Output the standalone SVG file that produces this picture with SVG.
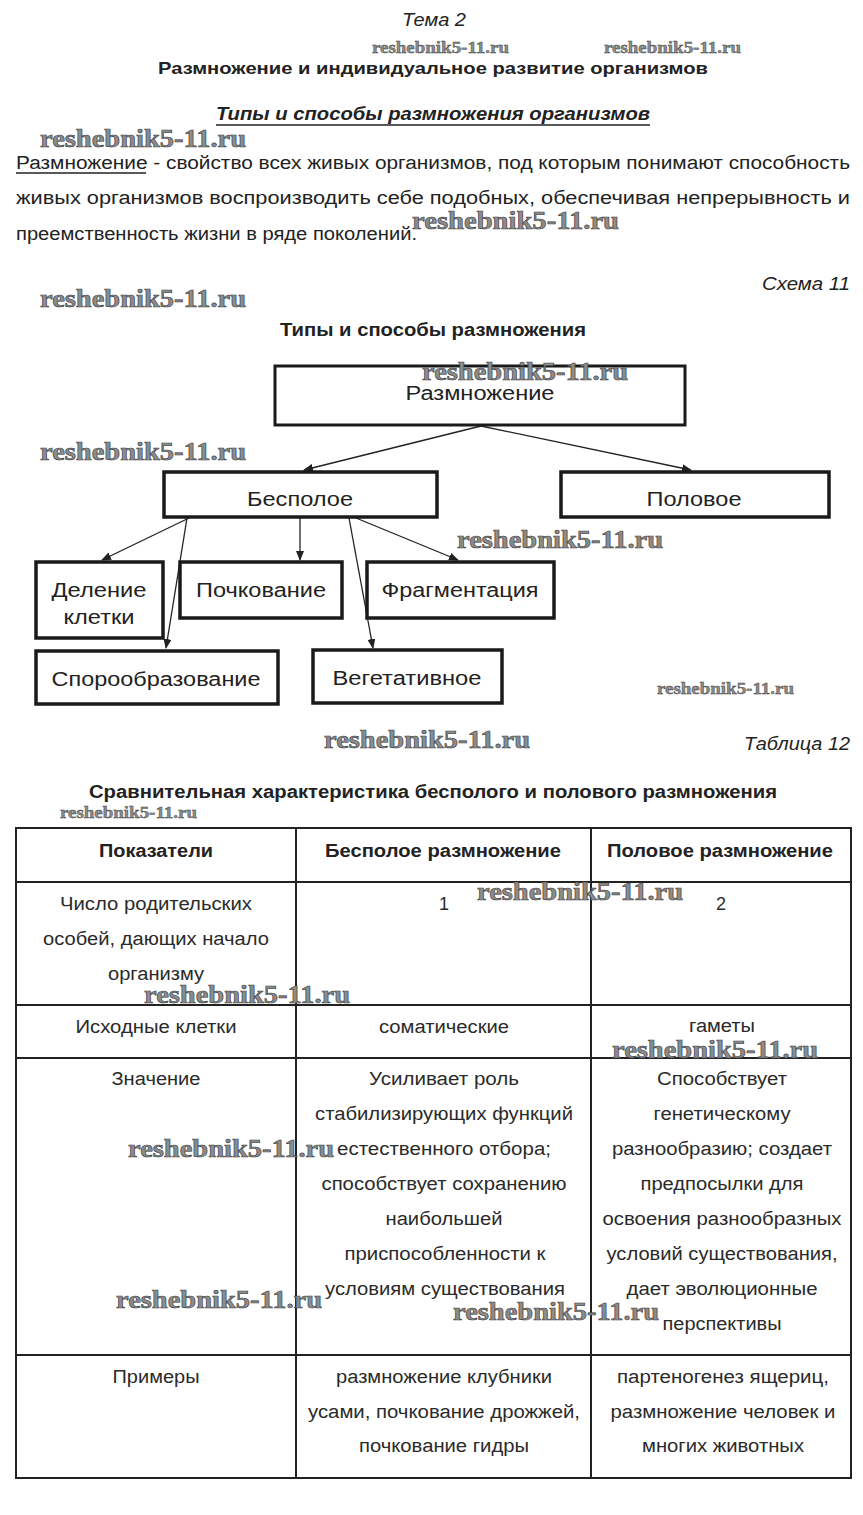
<svg xmlns="http://www.w3.org/2000/svg" width="863" height="1515" viewBox="0 0 863 1515">
<style>
text{font-family:"Liberation Sans",Arial,sans-serif;fill:#222}
.c{text-anchor:middle}
.r{text-anchor:end}
.b{font-weight:bold}
.i{font-style:italic}
.t{font-size:18px}
.tb{font-size:18px;fill:#2a2a2a}
.bx{font-size:20px}
.wm{font-family:"Liberation Serif","DejaVu Serif",serif;font-weight:bold;fill:#8c8c8c;stroke:#3c3c3c;stroke-width:0.6}
.wl{font-size:25px}
.ws{font-size:16px;stroke-width:0.4}
.node{fill:#fff;stroke:#1a1a1a;stroke-width:3.5}
.grid{stroke:#222;stroke-width:2;fill:none}
.edge{stroke:#222;stroke-width:1.3;fill:none}
</style>
<defs>
<marker id="ah" markerWidth="10" markerHeight="8" refX="9" refY="4" orient="auto" markerUnits="userSpaceOnUse">
<path d="M0,0 L10,4 L0,8 Z" fill="#222"/>
</marker>
</defs>
<rect width="863" height="1515" fill="#fff"/>

<!-- header -->
<text class="c i t" x="434" y="26" textLength="64" lengthAdjust="spacingAndGlyphs">Тема 2</text>
<text class="c b" style="font-size:17px" x="433" y="74" textLength="550" lengthAdjust="spacingAndGlyphs">Размножение и индивидуальное развитие организмов</text>
<text class="c b i" style="font-size:18px" x="433" y="120" textLength="434" lengthAdjust="spacingAndGlyphs">Типы и способы размножения организмов</text>
<line x1="216" y1="125" x2="650" y2="125" stroke="#222" stroke-width="1.5"/>

<text class="t" x="16" y="169" textLength="834" lengthAdjust="spacingAndGlyphs">Размножение - свойство всех живых организмов, под которым понимают способность</text>
<line x1="16" y1="173" x2="146" y2="173" stroke="#222" stroke-width="1.3"/>
<text class="t" x="16" y="204" textLength="834" lengthAdjust="spacingAndGlyphs">живых организмов воспроизводить себе подобных, обеспечивая непрерывность и</text>
<text class="t" x="16" y="240" textLength="401" lengthAdjust="spacingAndGlyphs">преемственность жизни в ряде поколений.</text>

<text class="r i t" x="850" y="290" textLength="88" lengthAdjust="spacingAndGlyphs">Схема 11</text>
<text class="c b" style="font-size:18px" x="433" y="336" textLength="306" lengthAdjust="spacingAndGlyphs">Типы и способы размножения</text>

<!-- connectors -->
<g id="connectors">
<line class="edge" x1="481" y1="426" x2="304" y2="470" marker-end="url(#ah)"/>
<line class="edge" x1="481" y1="426" x2="691" y2="470" marker-end="url(#ah)"/>
<line class="edge" x1="189" y1="518" x2="102" y2="560" marker-end="url(#ah)"/>
<line class="edge" x1="187" y1="518" x2="166" y2="648" marker-end="url(#ah)"/>
<line class="edge" x1="300" y1="518" x2="300" y2="560" marker-end="url(#ah)"/>
<line class="edge" x1="349" y1="518" x2="373" y2="648" marker-end="url(#ah)"/>
<line class="edge" x1="356" y1="518" x2="458" y2="560" marker-end="url(#ah)"/>
</g>

<!-- nodes -->
<g id="n-razmnozhenie">
<rect class="node" x="275" y="366" width="410" height="59" style="stroke-width:3"/>
<text class="c bx" x="480" y="400" textLength="149" lengthAdjust="spacingAndGlyphs">Размножение</text>
</g>
<g id="n-bespoloe">
<rect class="node" x="164" y="472" width="273" height="45"/>
<text class="c bx" x="300" y="506" textLength="106" lengthAdjust="spacingAndGlyphs">Бесполое</text>
</g>
<g id="n-polovoe">
<rect class="node" x="561" y="472" width="268" height="45"/>
<text class="c bx" x="694" y="506" textLength="95" lengthAdjust="spacingAndGlyphs">Половое</text>
</g>
<g id="n-delenie">
<rect class="node" x="36" y="562" width="127" height="76"/>
<text class="c bx" x="99" y="597" textLength="95" lengthAdjust="spacingAndGlyphs">Деление</text>
<text class="c bx" x="99" y="624" textLength="71" lengthAdjust="spacingAndGlyphs">клетки</text>
</g>
<g id="n-pochkovanie">
<rect class="node" x="180" y="562" width="162" height="56"/>
<text class="c bx" x="261" y="597" textLength="130" lengthAdjust="spacingAndGlyphs">Почкование</text>
</g>
<g id="n-fragmentaciya">
<rect class="node" x="367" y="562" width="187" height="56"/>
<text class="c bx" x="460" y="597" textLength="157" lengthAdjust="spacingAndGlyphs">Фрагментация</text>
</g>
<g id="n-sporoobrazovanie">
<rect class="node" x="36" y="651" width="242" height="53"/>
<text class="c bx" x="156" y="686" textLength="209" lengthAdjust="spacingAndGlyphs">Спорообразование</text>
</g>
<g id="n-vegetativnoe">
<rect class="node" x="313" y="650" width="189" height="53"/>
<text class="c bx" x="407" y="685" textLength="149" lengthAdjust="spacingAndGlyphs">Вегетативное</text>
</g>

<!-- table -->
<text class="r i t" x="850" y="750" textLength="106" lengthAdjust="spacingAndGlyphs">Таблица 12</text>
<text class="c b" style="font-size:18px" x="433" y="798" textLength="688" lengthAdjust="spacingAndGlyphs">Сравнительная характеристика бесполого и полового размножения</text>

<g id="table">
<rect class="grid" x="16" y="828" width="835" height="650"/>
<line class="grid" x1="296" y1="828" x2="296" y2="1478"/>
<line class="grid" x1="591" y1="828" x2="591" y2="1478"/>
<line class="grid" x1="16" y1="882" x2="851" y2="882"/>
<line class="grid" x1="16" y1="1005" x2="851" y2="1005"/>
<line class="grid" x1="16" y1="1058" x2="851" y2="1058"/>
<line class="grid" x1="16" y1="1355" x2="851" y2="1355"/>

<text class="c b" style="font-size:18px" x="156" y="857" textLength="114" lengthAdjust="spacingAndGlyphs">Показатели</text>
<text class="c b" style="font-size:18px" x="443" y="857" textLength="236" lengthAdjust="spacingAndGlyphs">Бесполое размножение</text>
<text class="c b" style="font-size:18px" x="720" y="857" textLength="226" lengthAdjust="spacingAndGlyphs">Половое размножение</text>

<text class="c tb" x="156" y="910" textLength="192" lengthAdjust="spacingAndGlyphs">Число родительских</text>
<text class="c tb" x="156" y="945" textLength="226" lengthAdjust="spacingAndGlyphs">особей, дающих начало</text>
<text class="c tb" x="156" y="980" textLength="96" lengthAdjust="spacingAndGlyphs">организму</text>
<text class="c tb" x="444" y="910">1</text>
<text class="c tb" x="721" y="910">2</text>

<text class="c tb" x="156" y="1033" textLength="161" lengthAdjust="spacingAndGlyphs">Исходные клетки</text>
<text class="c tb" x="444" y="1033" textLength="130" lengthAdjust="spacingAndGlyphs">соматические</text>
<text class="c tb" x="722" y="1032" textLength="66" lengthAdjust="spacingAndGlyphs">гаметы</text>

<text class="c tb" x="156" y="1085" textLength="89" lengthAdjust="spacingAndGlyphs">Значение</text>
<text class="c tb" x="444" y="1085" textLength="150" lengthAdjust="spacingAndGlyphs">Усиливает роль</text>
<text class="c tb" x="444" y="1120" textLength="258" lengthAdjust="spacingAndGlyphs">стабилизирующих функций</text>
<text class="c tb" x="444" y="1155" textLength="214" lengthAdjust="spacingAndGlyphs">естественного отбора;</text>
<text class="c tb" x="444" y="1190" textLength="245" lengthAdjust="spacingAndGlyphs">способствует сохранению</text>
<text class="c tb" x="444" y="1225" textLength="117" lengthAdjust="spacingAndGlyphs">наибольшей</text>
<text class="c tb" x="445" y="1260" textLength="201" lengthAdjust="spacingAndGlyphs">приспособленности к</text>
<text class="c tb" x="445" y="1295" textLength="240" lengthAdjust="spacingAndGlyphs">условиям существования</text>

<text class="c tb" x="722" y="1085" textLength="130" lengthAdjust="spacingAndGlyphs">Способствует</text>
<text class="c tb" x="722" y="1120" textLength="137" lengthAdjust="spacingAndGlyphs">генетическому</text>
<text class="c tb" x="722" y="1155" textLength="220" lengthAdjust="spacingAndGlyphs">разнообразию; создает</text>
<text class="c tb" x="722" y="1190" textLength="163" lengthAdjust="spacingAndGlyphs">предпосылки для</text>
<text class="c tb" x="722" y="1225" textLength="239" lengthAdjust="spacingAndGlyphs">освоения разнообразных</text>
<text class="c tb" x="722" y="1260" textLength="231" lengthAdjust="spacingAndGlyphs">условий существования,</text>
<text class="c tb" x="722" y="1295" textLength="191" lengthAdjust="spacingAndGlyphs">дает эволюционные</text>
<text class="c tb" x="722" y="1330" textLength="119" lengthAdjust="spacingAndGlyphs">перспективы</text>

<text class="c tb" x="156" y="1383" textLength="87" lengthAdjust="spacingAndGlyphs">Примеры</text>
<text class="c tb" x="444" y="1383" textLength="216" lengthAdjust="spacingAndGlyphs">размножение клубники</text>
<text class="c tb" x="444" y="1418" textLength="272" lengthAdjust="spacingAndGlyphs">усами, почкование дрожжей,</text>
<text class="c tb" x="444" y="1452" textLength="170" lengthAdjust="spacingAndGlyphs">почкование гидры</text>
<text class="c tb" x="723" y="1383" textLength="212" lengthAdjust="spacingAndGlyphs">партеногенез ящериц,</text>
<text class="c tb" x="723" y="1418" textLength="225" lengthAdjust="spacingAndGlyphs">размножение человек и</text>
<text class="c tb" x="723" y="1452" textLength="162" lengthAdjust="spacingAndGlyphs">многих животных</text>
</g>

<!-- watermarks -->
<g id="watermarks">
<text class="wm ws" x="372" y="53" textLength="137" lengthAdjust="spacingAndGlyphs">reshebnik5-11.ru</text>
<text class="wm ws" x="604" y="53" textLength="137" lengthAdjust="spacingAndGlyphs">reshebnik5-11.ru</text>
<text class="wm wl" x="40" y="147" textLength="206" lengthAdjust="spacingAndGlyphs">reshebnik5-11.ru</text>
<text class="wm wl" x="412" y="229" textLength="207" lengthAdjust="spacingAndGlyphs">reshebnik5-11.ru</text>
<text class="wm wl" x="40" y="307" textLength="206" lengthAdjust="spacingAndGlyphs">reshebnik5-11.ru</text>
<text class="wm wl" x="422" y="380" textLength="206" lengthAdjust="spacingAndGlyphs">reshebnik5-11.ru</text>
<text class="wm wl" x="40" y="460" textLength="206" lengthAdjust="spacingAndGlyphs">reshebnik5-11.ru</text>
<text class="wm wl" x="457" y="548" textLength="206" lengthAdjust="spacingAndGlyphs">reshebnik5-11.ru</text>
<text class="wm ws" x="657" y="694" textLength="137" lengthAdjust="spacingAndGlyphs">reshebnik5-11.ru</text>
<text class="wm wl" x="324" y="748" textLength="206" lengthAdjust="spacingAndGlyphs">reshebnik5-11.ru</text>
<text class="wm ws" x="60" y="818" textLength="137" lengthAdjust="spacingAndGlyphs">reshebnik5-11.ru</text>
<text class="wm wl" x="477" y="900" textLength="206" lengthAdjust="spacingAndGlyphs">reshebnik5-11.ru</text>
<text class="wm wl" x="144" y="1003" textLength="206" lengthAdjust="spacingAndGlyphs">reshebnik5-11.ru</text>
<text class="wm wl" x="612" y="1058" textLength="206" lengthAdjust="spacingAndGlyphs">reshebnik5-11.ru</text>
<text class="wm wl" x="128" y="1157" textLength="206" lengthAdjust="spacingAndGlyphs">reshebnik5-11.ru</text>
<text class="wm wl" x="116" y="1308" textLength="206" lengthAdjust="spacingAndGlyphs">reshebnik5-11.ru</text>
<text class="wm wl" x="453" y="1320" textLength="206" lengthAdjust="spacingAndGlyphs">reshebnik5-11.ru</text>
</g>
</svg>
